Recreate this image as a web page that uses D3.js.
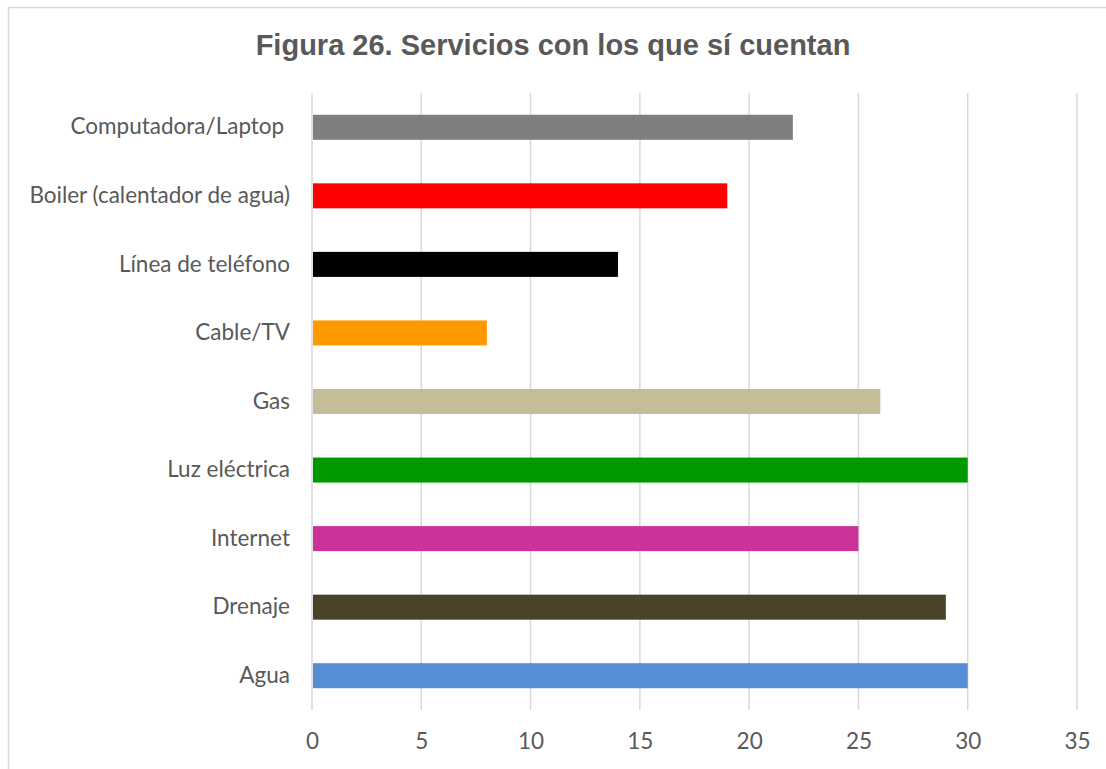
<!DOCTYPE html>
<html>
<head>
<meta charset="utf-8">
<script src="https://cdn.jsdelivr.net/npm/d3@7"></script>
<style>
  body { margin: 0; background: #fff; }
</style>
</head>
<body>
<div id="chart"></div>
<script>
// Data
var categories = ["Computadora/Laptop ", "Boiler (calentador de agua)", "Línea de teléfono",
  "Cable/TV", "Gas", "Luz eléctrica", "Internet", "Drenaje", "Agua"];
var values = [22, 19, 14, 8, 26, 30, 25, 29, 30];
var barColors = ["#7f7f7f", "#ff0000", "#000000", "#ff9900", "#c4bd97",
  "#009900", "#cc3399", "#494429", "#558ed5"];
var xTicks = [0, 5, 10, 15, 20, 25, 30, 35];

var W = 1106, H = 769;
var margin = { top: 93, right: 29, bottom: 59, left: 312 },
  width = W - margin.left - margin.right,
  height = H - margin.top - margin.bottom;

var svg = d3.select("#chart")
  .append("svg")
  .attr("width", W)
  .attr("height", H);

// chart border
svg.append("rect")
  .attr("x", 8.5).attr("y", 7.5)
  .attr("width", W + 10).attr("height", H + 10)
  .attr("fill", "none")
  .attr("stroke", "#d9d9d9")
  .attr("stroke-width", 1.5);

svg.append("text")
  .attr("x", 553)
  .attr("y", 55)
  .attr("text-anchor", "middle")
  .style("font-family", "'Liberation Sans', Arial, sans-serif")
  .style("font-weight", "bold")
  .style("font-size", "29px")
  .style("fill", "#595959")
  .text("Figura 26. Servicios con los que sí cuentan");

var g = svg.append("g")
  .attr("transform", "translate(" + margin.left + "," + margin.top + ")");

var x = d3.scaleLinear().domain([0, 35]).range([0, width]);
var y = d3.scaleBand().domain(categories).range([0, height]).paddingInner(0.635).paddingOuter(0.3175);

// gridlines
g.selectAll(".grid")
  .data(xTicks)
  .enter()
  .append("line")
  .attr("x1", function (d) { return x(d); })
  .attr("x2", function (d) { return x(d); })
  .attr("y1", 0)
  .attr("y2", height)
  .attr("stroke", "#d9d9d9")
  .attr("stroke-width", 1.5);

g.selectAll(".bar")
  .data(categories)
  .enter()
  .append("rect")
  .attr("x", x(0) + 1)
  .attr("y", function (d) { return y(d); })
  .attr("width", function (d, i) { return x(values[i]) - x(0) - 1; })
  .attr("height", y.bandwidth())
  .style("fill", function (d, i) { return barColors[i]; });

var labelFont = "Lato, 'Open Sans', sans-serif";

// x axis
var xAxis = g.append("g")
  .attr("transform", "translate(0," + height + ")")
  .call(d3.axisBottom(x).tickValues(xTicks).tickSize(0).tickPadding(23));
xAxis.select(".domain").remove();
xAxis.selectAll("text")
  .style("font-family", labelFont)
  .style("font-size", "22.5px")
  .style("fill", "#595959");

// y axis
var yAxis = g.append("g")
  .call(d3.axisLeft(y).tickSize(0).tickPadding(22));
yAxis.select(".domain").remove();
yAxis.selectAll("text")
  .style("font-family", labelFont)
  .style("font-size", "22.5px")
  .style("white-space", "pre")
  .style("fill", "#595959");
</script>
</body>
</html>
